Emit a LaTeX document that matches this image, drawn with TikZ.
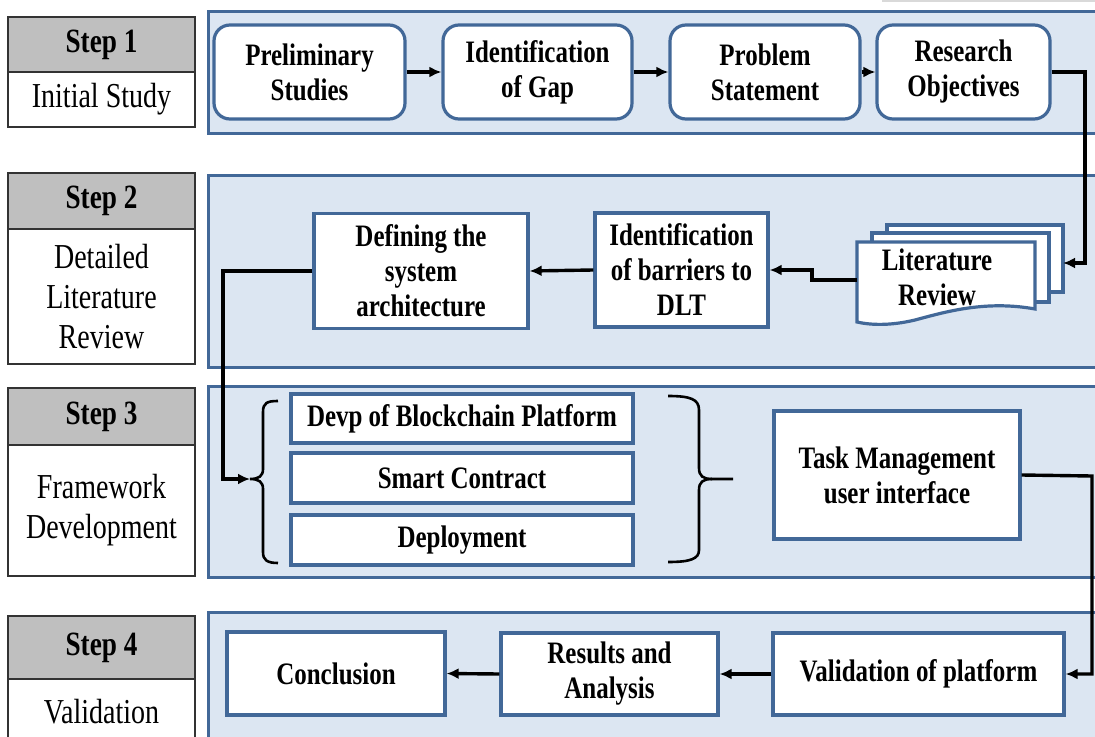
\documentclass[tikz,border=0pt]{standalone}
\usepackage{fontspec}
\setmainfont{Liberation Serif}[FakeStretch=0.8]
\usetikzlibrary{arrows.meta}
\definecolor{panelfill}{RGB}{220,230,242}
\definecolor{panelline}{RGB}{66,104,152}
\definecolor{headgrey}{RGB}{191,191,191}

\begin{document}
\begin{tikzpicture}[x=0.5pt,y=-0.5pt,
  panel/.style={draw=panelline, fill=panelfill, line width=1.5pt},
  box/.style={draw=panelline, fill=white, line width=1.6pt, align=center,
    font=\fontsize{15.6}{17.5}\selectfont\bfseries, inner sep=2pt},
  rbox/.style={box, rounded corners=8pt},
  headbox/.style={draw=black!80, fill=headgrey, line width=0.8pt, minimum width=93.5pt,
    font=\fontsize{17}{20}\selectfont\bfseries},
  bodybox/.style={draw=black!80, fill=white, line width=0.8pt, minimum width=93.5pt,
    align=center, font=\fontsize{17.5}{20}\selectfont},
  arr/.style={draw=black, line width=1.7pt, -{Latex[length=6pt,width=5.5pt]}},
  docpage/.style={draw=panelline, fill=white, line width=1.6pt},
  bracestyle/.style={draw=black, line width=1.3pt},
]
\useasboundingbox (0,0) rectangle (1095,737);
\clip (0,0) rectangle (1095,737);

% faint edge at the top right
\draw[black!15, line width=1.2pt] (882,1) -- (1095,1);

% ---------- stage panels ----------
\draw[panel] (208,12) rectangle (1115,134);
\draw[panel] (208,176) rectangle (1115,367);
\draw[panel] (208,386) rectangle (1115,577);
\draw[panel] (208,612) rectangle (1115,760);

% ---------- step labels ----------
\node[headbox, minimum height=27.5pt] (s1h) at (101.5,44.5) {Step 1};
\node[bodybox, minimum height=27.5pt] (s1b) at (101.5,99.5) {Initial Study};
\node[headbox, minimum height=28pt] (s2h) at (101.5,201) {Step 2};
\node[bodybox, minimum height=67.5pt] (s2b) at (101.5,296.5) {Detailed\\Literature\\Review};
\node[headbox, minimum height=28.5pt] (s3h) at (101.5,416.5) {Step 3};
\node[bodybox, minimum height=65.5pt] (s3b) at (101.5,510.5) {Framework\\Development};
\node[headbox, minimum height=31.5pt] (s4h) at (101.5,647.5) {Step 4};
\node[bodybox, minimum height=33pt] (s4b) at (101.5,712) {Validation};

% ---------- step 1 ----------
\node[rbox, minimum width=95.5pt, minimum height=47pt] (prelim) at (309.5,72) {Preliminary\\Studies};
\node[rbox, minimum width=94.5pt, minimum height=47pt] (gap) at (537.5,72) {Identification\\of Gap};
\node[rbox, minimum width=95pt, minimum height=47pt] (problem) at (765,72) {Problem\\Statement};
\node[rbox, minimum width=86.5pt, minimum height=47pt] (objectives) at (963.5,72) {Research\\Objectives};

\draw[arr] (prelim) -- (gap);
\draw[arr] (gap) -- (problem);
\draw[arr] (problem) -- (objectives);

% ---------- step 2 ----------
% stacked document pages
\draw[docpage] (887,225) rectangle (1063,292);
\draw[docpage] (872,233) rectangle (1049,302);
\draw[docpage] (857,242) -- (1035,242) -- (1035,309)
  .. controls (985,300) and (945,312) .. (915,320)
  .. controls (890,326) and (870,325) .. (857,322) -- cycle;
\node[font=\fontsize{15.6}{17.5}\selectfont\bfseries, align=center] (lit) at (937,277.5) {Literature\\Review};
\coordinate (litL) at (857,280);
\coordinate (litR) at (1063,263);

\node[box, minimum width=86.5pt, minimum height=57pt] (barriers) at (681.5,270) {Identification\\of barriers to\\DLT};
\node[box, minimum width=107pt, minimum height=57.5pt] (defining) at (421,271) {Defining the\\system\\architecture};

\coordinate (k1) at (1085,263);
\draw[arr] (objectives.east) -| (k1) -- (litR);
\coordinate (k2) at (812,280);
\draw[arr] (litL) -- (k2) -- (k2 |- barriers.east) -- (barriers.east);
\draw[arr] (barriers.west) -- (defining.east);

% ---------- step 3 ----------
\node[box, minimum width=171pt, minimum height=24.5pt] (devp) at (462,418.5) {Devp of Blockchain Platform};
\node[box, minimum width=171pt, minimum height=25pt] (smart) at (462,478) {Smart Contract};
\node[box, minimum width=171pt, minimum height=25pt] (deploy) at (462,540) {Deployment};
\node[box, minimum width=123pt, minimum height=64pt] (task) at (897,475) {Task Management\\user interface};

% braces grouping the three development tasks
\coordinate (lb) at (250,479);
\draw[bracestyle] (278,401) .. controls (267,401) and (263,403) .. (263,412) -- (263,469)
  .. controls (263,476) and (259,479) .. (lb)
  .. controls (259,479) and (263,482) .. (263,489) -- (263,552)
  .. controls (263,560) and (267,563) .. (278,563);
\coordinate (rb) at (733,479);
\draw[bracestyle] (668,396) .. controls (690,396) and (699,399) .. (699,410) -- (699,468)
  .. controls (699,476) and (703,479) .. (712,479) -- (rb);
\draw[bracestyle] (712,479) .. controls (703,479) and (699,482) .. (699,490) -- (699,550)
  .. controls (699,559) and (690,562) .. (668,562);

\coordinate (k3) at (223,271);
\draw[arr] (defining.west) -- (k3) |- (lb);

% ---------- step 4 ----------
\node[box, minimum width=109pt, minimum height=41.5pt] (conclusion) at (336,673.5) {Conclusion};
\node[box, minimum width=108.5pt, minimum height=41pt] (results) at (609.5,674) {Results and\\Analysis};
\node[box, minimum width=145.5pt, minimum height=41pt] (validation) at (918.5,674) {Validation of platform};

\coordinate (k4) at (1092,476);
\draw[arr] (task.east) -- (k4) |- (validation.east);
\draw[arr] (validation.west) -- (results.east);
\draw[arr] (results.west) -- (conclusion.east);
\end{tikzpicture}
\end{document}
